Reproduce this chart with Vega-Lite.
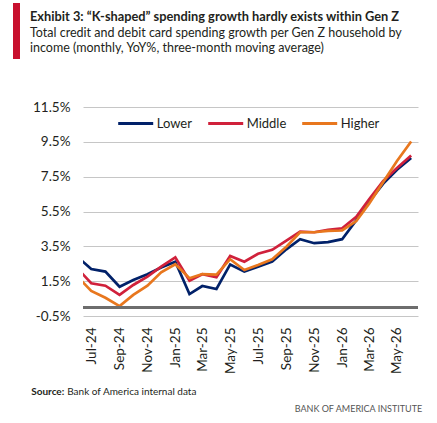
{
  "$schema": "https://vega.github.io/schema/vega-lite/v6.json",
  "description": "Gen Z card spending growth by income, three-month moving average",
  "autosize": {"type": "none"},
  "padding": {"left": 83, "top": 107, "right": 19, "bottom": 107},
  "width": 335,
  "height": 209,
  "background": "white",
  "title": {
    "text": "Exhibit 3: “K-shaped” spending growth hardly exists within Gen Z",
    "subtitle": [
      "Total credit and debit card spending growth per Gen Z household by",
      "income (monthly, YoY%, three-month moving average)"
    ],
    "anchor": "start",
    "frame": "group",
    "orient": "top",
    "dx": -53,
    "offset": -52
  },
  "data": {
    "values": [
      {"month": "2024-06-01", "group": "Lower", "value": 2.89},
      {"month": "2024-07-01", "group": "Lower", "value": 2.2},
      {"month": "2024-08-01", "group": "Lower", "value": 2.05},
      {"month": "2024-09-01", "group": "Lower", "value": 1.18},
      {"month": "2024-10-01", "group": "Lower", "value": 1.57},
      {"month": "2024-11-01", "group": "Lower", "value": 1.9},
      {"month": "2024-12-01", "group": "Lower", "value": 2.28},
      {"month": "2025-01-01", "group": "Lower", "value": 2.62},
      {"month": "2025-02-01", "group": "Lower", "value": 0.76},
      {"month": "2025-03-01", "group": "Lower", "value": 1.22},
      {"month": "2025-04-01", "group": "Lower", "value": 1.05},
      {"month": "2025-05-01", "group": "Lower", "value": 2.46},
      {"month": "2025-06-01", "group": "Lower", "value": 2.05},
      {"month": "2025-07-01", "group": "Lower", "value": 2.33},
      {"month": "2025-08-01", "group": "Lower", "value": 2.62},
      {"month": "2025-09-01", "group": "Lower", "value": 3.33},
      {"month": "2025-10-01", "group": "Lower", "value": 3.91},
      {"month": "2025-11-01", "group": "Lower", "value": 3.68},
      {"month": "2025-12-01", "group": "Lower", "value": 3.74},
      {"month": "2026-01-01", "group": "Lower", "value": 3.91},
      {"month": "2026-02-01", "group": "Lower", "value": 5.0},
      {"month": "2026-03-01", "group": "Lower", "value": 6.07},
      {"month": "2026-04-01", "group": "Lower", "value": 7.1},
      {"month": "2026-05-01", "group": "Lower", "value": 7.9},
      {"month": "2026-06-01", "group": "Lower", "value": 8.57},
      {"month": "2024-06-01", "group": "Middle", "value": 2.23},
      {"month": "2024-07-01", "group": "Middle", "value": 1.38},
      {"month": "2024-08-01", "group": "Middle", "value": 1.24},
      {"month": "2024-09-01", "group": "Middle", "value": 0.71},
      {"month": "2024-10-01", "group": "Middle", "value": 1.28},
      {"month": "2024-11-01", "group": "Middle", "value": 1.76},
      {"month": "2024-12-01", "group": "Middle", "value": 2.33},
      {"month": "2025-01-01", "group": "Middle", "value": 2.87},
      {"month": "2025-02-01", "group": "Middle", "value": 1.53},
      {"month": "2025-03-01", "group": "Middle", "value": 1.9},
      {"month": "2025-04-01", "group": "Middle", "value": 1.73},
      {"month": "2025-05-01", "group": "Middle", "value": 2.95},
      {"month": "2025-06-01", "group": "Middle", "value": 2.62},
      {"month": "2025-07-01", "group": "Middle", "value": 3.07},
      {"month": "2025-08-01", "group": "Middle", "value": 3.3},
      {"month": "2025-09-01", "group": "Middle", "value": 3.83},
      {"month": "2025-10-01", "group": "Middle", "value": 4.35},
      {"month": "2025-11-01", "group": "Middle", "value": 4.31},
      {"month": "2025-12-01", "group": "Middle", "value": 4.45},
      {"month": "2026-01-01", "group": "Middle", "value": 4.54},
      {"month": "2026-02-01", "group": "Middle", "value": 5.2},
      {"month": "2026-03-01", "group": "Middle", "value": 6.2},
      {"month": "2026-04-01", "group": "Middle", "value": 7.25},
      {"month": "2026-05-01", "group": "Middle", "value": 8.0},
      {"month": "2026-06-01", "group": "Middle", "value": 8.72},
      {"month": "2024-06-01", "group": "Higher", "value": 1.76},
      {"month": "2024-07-01", "group": "Higher", "value": 0.94},
      {"month": "2024-08-01", "group": "Higher", "value": 0.55},
      {"month": "2024-09-01", "group": "Higher", "value": 0.07},
      {"month": "2024-10-01", "group": "Higher", "value": 0.71},
      {"month": "2024-11-01", "group": "Higher", "value": 1.24},
      {"month": "2024-12-01", "group": "Higher", "value": 2.01},
      {"month": "2025-01-01", "group": "Higher", "value": 2.47},
      {"month": "2025-02-01", "group": "Higher", "value": 1.67},
      {"month": "2025-03-01", "group": "Higher", "value": 1.91},
      {"month": "2025-04-01", "group": "Higher", "value": 1.88},
      {"month": "2025-05-01", "group": "Higher", "value": 2.76},
      {"month": "2025-06-01", "group": "Higher", "value": 2.14},
      {"month": "2025-07-01", "group": "Higher", "value": 2.43},
      {"month": "2025-08-01", "group": "Higher", "value": 2.76},
      {"month": "2025-09-01", "group": "Higher", "value": 3.48},
      {"month": "2025-10-01", "group": "Higher", "value": 4.31},
      {"month": "2025-11-01", "group": "Higher", "value": 4.31},
      {"month": "2025-12-01", "group": "Higher", "value": 4.39},
      {"month": "2026-01-01", "group": "Higher", "value": 4.41},
      {"month": "2026-02-01", "group": "Higher", "value": 4.95},
      {"month": "2026-03-01", "group": "Higher", "value": 5.95},
      {"month": "2026-04-01", "group": "Higher", "value": 7.2},
      {"month": "2026-05-01", "group": "Higher", "value": 8.4},
      {"month": "2026-06-01", "group": "Higher", "value": 9.52}
    ]
  },
  "layer": [
    {
      "mark": {"type": "line", "strokeWidth": 2.7, "clip": true, "strokeJoin": "miter"},
      "encoding": {
        "x": {
          "field": "month",
          "type": "temporal",
          "title": "Source:",
          "scale": {
            "type": "utc",
            "domain": [
              {"year": 2024, "month": 6, "date": 13, "utc": true},
              {"year": 2026, "month": 6, "date": 16, "utc": true}
            ]
          },
          "axis": {
            "format": "%b-%y",
            "tickCount": {"interval": "month", "step": 2},
            "labelAngle": 270,
            "labelPadding": 11,
            "labelFontSize": 13.5,
            "labelColor": "#231f20",
            "grid": false,
            "ticks": false,
            "domain": false,
            "titleX": -52.3,
            "titleY": 78.3,
            "titleAlign": "left",
            "titleBaseline": "alphabetic",
            "titleFontSize": 10,
            "titleFontWeight": "bold",
            "titleColor": "#231f20"
          }
        },
        "y": {
          "field": "value",
          "type": "quantitative",
          "title": "Bank of America internal data",
          "scale": {"domain": [-0.5, 11.5], "nice": false, "zero": false},
          "axis": {
            "values": [-0.5, 1.5, 3.5, 5.5, 7.5, 9.5, 11.5],
            "labelExpr": "replace(format(datum.value, '.1f'), '\u2212', '-') + '%'",
            "labelPadding": 13,
            "labelFontSize": 13.5,
            "labelColor": "#231f20",
            "ticks": false,
            "domain": false,
            "gridColor": "#c6c6c6",
            "gridWidth": 1,
            "titleAngle": 0,
            "titleX": -16.3,
            "titleY": 287.3,
            "titleAlign": "left",
            "titleBaseline": "alphabetic",
            "titleFontSize": 10,
            "titleFontWeight": "normal",
            "titleColor": "#231f20"
          }
        },
        "color": {
          "field": "group",
          "type": "nominal",
          "scale": {
            "domain": ["Lower", "Middle", "Higher"],
            "range": ["#012169", "#d0213b", "#e8771e"]
          },
          "legend": {
            "title": null,
            "orient": "none",
            "direction": "horizontal",
            "legendX": 33.7,
            "legendY": -2.5,
            "padding": 0,
            "symbolType": "stroke",
            "symbolSize": 1225,
            "symbolStrokeWidth": 3,
            "labelOffset": 2,
            "columnPadding": 9,
            "labelFontSize": 13,
            "labelColor": "#231f20"
          }
        }
      }
    },
    {
      "mark": {"type": "rule", "color": "#6e6e6e", "strokeWidth": 2},
      "encoding": {
        "y": {
          "datum": 0,
          "type": "quantitative",
          "axis": {
            "orient": "right",
            "title": "BANK OF AMERICA INSTITUTE",
            "labels": false,
            "ticks": false,
            "domain": false,
            "grid": false,
            "titleAngle": 0,
            "titleX": 3.7,
            "titleY": 304,
            "titleAlign": "right",
            "titleBaseline": "alphabetic",
            "titleFontSize": 9,
            "titleFontWeight": "normal",
            "titleColor": "#555555"
          }
        },
        "strokeDash": {
          "datum": "accent",
          "scale": {"range": [[1, 0]]},
          "legend": {
            "title": null,
            "orient": "none",
            "legendX": -70,
            "legendY": -104,
            "padding": 0,
            "symbolType": "M-1,-1H-0.75V1H-1Z",
            "symbolSize": 3136,
            "symbolFillColor": "#c8102e",
            "symbolStrokeColor": "#c8102e",
            "symbolStrokeWidth": 0,
            "labelExpr": "''"
          }
        }
      }
    }
  ],
  "resolve": {"axis": {"y": "independent"}},
  "config": {
    "font": "Lato",
    "view": {"stroke": null},
    "title": {
      "fontSize": 12.8,
      "fontWeight": "bold",
      "color": "#231f20",
      "subtitleFontSize": 12.5,
      "subtitleColor": "#231f20",
      "subtitleLineHeight": 15,
      "subtitlePadding": 4
    }
  }
}
